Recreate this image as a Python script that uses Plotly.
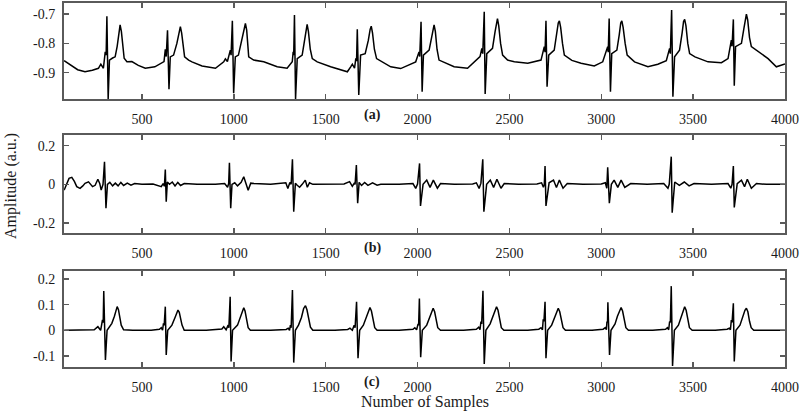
import plotly.graph_objects as go

# ---------------- data ----------------
# (a) raw ECG: sample index / amplitude
sig_a = [
    (76,-0.859),(110,-0.872),(150,-0.890),(190,-0.897),(230,-0.892),(263,-0.885),(276,-0.871),(290,-0.885),
    (300,-0.829),(305,-0.84),(309,-0.707),(316,-0.99),(323,-0.857),(340,-0.850),(354,-0.846),(365,-0.81),
    (374,-0.76),(381,-0.737),(388,-0.76),(396,-0.82),(403,-0.851),(418,-0.863),(445,-0.862),(480,-0.875),
    (518,-0.885),(570,-0.880),(609,-0.868),(620,-0.862),(627,-0.820),(632,-0.845),(639,-0.755),(647,-0.957),
    (654,-0.846),(672,-0.840),(690,-0.80),(702,-0.755),(709,-0.743),(716,-0.765),(725,-0.82),(732,-0.846),
    (754,-0.857),(772,-0.863),(827,-0.877),(900,-0.885),(945,-0.863),(954,-0.853),(965,-0.862),(981,-0.823),
    (985,-0.84),(992,-0.723),(999,-0.970),(1008,-0.846),(1025,-0.84),(1042,-0.79),(1055,-0.745),(1063,-0.732),
    (1070,-0.755),(1077,-0.82),(1081,-0.846),(1108,-0.857),(1163,-0.863),(1236,-0.880),(1290,-0.885),
    (1318,-0.863),(1323,-0.829),(1326,-0.84),(1330,-0.703),(1336,-0.99),(1345,-0.852),(1372,-0.840),
    (1385,-0.79),(1393,-0.75),(1399,-0.735),(1406,-0.76),(1416,-0.82),(1427,-0.852),(1454,-0.863),
    (1527,-0.880),(1581,-0.891),(1618,-0.897),(1636,-0.880),(1645,-0.871),(1657,-0.885),(1664,-0.851),
    (1668,-0.86),(1672,-0.752),(1680,-0.976),(1690,-0.840),(1715,-0.835),(1732,-0.79),(1742,-0.752),
    (1748,-0.741),(1755,-0.765),(1765,-0.82),(1777,-0.852),(1808,-0.863),(1854,-0.880),(1908,-0.886),
    (1963,-0.870),(1990,-0.863),(2008,-0.829),(2012,-0.845),(2019,-0.726),(2025,-0.965),(2032,-0.840),
    (2063,-0.823),(2078,-0.775),(2085,-0.745),(2090,-0.737),(2097,-0.76),(2106,-0.82),(2117,-0.857),
    (2140,-0.863),(2199,-0.880),(2272,-0.885),(2327,-0.854),(2340,-0.845),(2350,-0.817),(2355,-0.835),
    (2363,-0.692),(2368,-0.973),(2377,-0.835),(2408,-0.817),(2422,-0.76),(2430,-0.722),(2435,-0.715),
    (2442,-0.74),(2452,-0.80),(2463,-0.840),(2490,-0.857),(2527,-0.863),(2600,-0.868),(2672,-0.857),
    (2690,-0.811),(2694,-0.83),(2699,-0.723),(2705,-0.948),(2714,-0.840),(2744,-0.823),(2758,-0.765),
    (2766,-0.73),(2772,-0.723),(2779,-0.745),(2789,-0.80),(2799,-0.840),(2840,-0.858),(2890,-0.868),
    (2962,-0.877),(3008,-0.863),(3035,-0.811),(3038,-0.83),(3043,-0.715),(3050,-0.965),(3057,-0.835),
    (3085,-0.823),(3098,-0.77),(3106,-0.73),(3112,-0.723),(3119,-0.745),(3130,-0.80),(3141,-0.840),
    (3181,-0.863),(3254,-0.880),(3308,-0.871),(3354,-0.859),(3372,-0.817),(3376,-0.835),(3383,-0.686),
    (3390,-0.982),(3399,-0.846),(3426,-0.823),(3440,-0.765),(3448,-0.725),(3454,-0.718),(3461,-0.74),
    (3471,-0.80),(3481,-0.835),(3510,-0.846),(3581,-0.863),(3654,-0.866),(3690,-0.852),(3708,-0.789),
    (3712,-0.81),(3719,-0.718),(3724,-0.945),(3731,-0.811),(3763,-0.800),(3776,-0.75),(3784,-0.712),
    (3790,-0.700),(3797,-0.72),(3807,-0.78),(3817,-0.811),(3844,-0.823),(3908,-0.852),(3953,-0.880),
    (4000,-0.870),
]

# (b) filtered component
sig_b = [
    (76,-0.03),(90,0.0),(103,0.031),(118,0.036),(132,0.015),(145,-0.012),(163,-0.021),(178,-0.008),
    (190,0.005),(209,0.013),(231,-0.012),(245,-0.005),(260,0.026),(270,0.005),(278,-0.03),(288,0.0),
    (296,0.117),(304,-0.124),(312,0.0),(325,0.01),(340,-0.008),(355,0.006),(370,-0.008),(385,0.01),
    (400,-0.006),(420,0.006),(440,-0.004),(460,0.004),(500,0.0),(560,0.002),(605,-0.012),(615,0.004),
    (622,-0.01),(627,0.077),(632,-0.09),(638,0.012),(650,0.0),(665,0.012),(680,-0.008),(695,0.01),
    (710,-0.006),(730,0.004),(800,0.0),(900,0.0),(950,0.004),(966,-0.015),(972,0.005),(976,0.112),
    (983,-0.124),(990,0.0),(1005,0.008),(1020,-0.008),(1040,0.01),(1054,0.039),(1066,0.0),(1078,-0.03),
    (1092,0.006),(1110,0.004),(1200,0.0),(1270,0.004),(1283,0.008),(1294,-0.021),(1305,0.01),(1312,0.0),
    (1319,0.129),(1326,-0.141),(1335,0.005),(1345,-0.005),(1358,-0.015),(1372,0.0),(1389,0.022),
    (1400,-0.015),(1412,0.008),(1430,0.0),(1500,0.0),(1600,0.002),(1630,0.014),(1645,-0.01),(1655,0.005),
    (1660,0.0),(1667,0.1),(1674,-0.098),(1682,0.01),(1695,-0.006),(1712,0.01),(1730,-0.005),(1755,0.008),
    (1780,-0.004),(1800,0.0),(1900,0.0),(1975,0.004),(1990,-0.021),(2000,0.002),(2011,0.108),(2016,-0.112),
    (2030,0.0),(2050,0.022),(2068,-0.016),(2086,0.022),(2108,-0.02),(2125,0.004),(2200,0.0),(2300,0.002),
    (2320,0.008),(2335,-0.021),(2345,0.006),(2355,0.129),(2361,-0.141),(2376,0.0),(2396,0.022),
    (2414,-0.016),(2432,0.026),(2454,-0.02),(2472,0.004),(2550,0.0),(2650,0.002),(2675,0.008),
    (2685,-0.015),(2690,0.0),(2694,0.095),(2699,-0.112),(2716,0.008),(2740,0.022),(2756,-0.016),
    (2772,0.022),(2792,-0.02),(2815,0.004),(2900,0.0),(3000,0.002),(3022,0.008),(3030,-0.02),
    (3035,0.088),(3044,-0.098),(3055,0.0),(3070,0.022),(3090,-0.016),(3108,0.022),(3128,-0.016),
    (3160,0.004),(3250,0.0),(3340,0.004),(3363,-0.02),(3370,0.0),(3381,0.143),(3386,-0.147),(3400,0.012),
    (3425,-0.005),(3452,0.012),(3478,-0.008),(3505,0.004),(3600,0.0),(3690,0.004),(3705,-0.02),(3712,0.0),
    (3719,0.095),(3724,-0.119),(3740,0.004),(3763,0.022),(3780,-0.012),(3795,0.026),(3817,-0.02),
    (3845,0.004),(3900,0.0),(4000,0.0),
]

# (c) reconstructed ECG
sig_c = [
    (76,0.0),(150,0.0),(240,0.002),(260,0.014),(275,0.0),(285,0.04),(289,0.03),(292,0.153),(301,-0.116),
    (310,0.0),(336,0.027),(350,0.055),(358,0.08),(365,0.092),(372,0.08),(380,0.045),(387,0.02),(400,0.002),
    (450,0.0),(550,0.0),(595,0.004),(605,0.01),(612,0.0),(617,0.027),(621,0.02),(627,0.092),(632,-0.096),
    (640,0.0),(663,0.02),(680,0.05),(690,0.072),(696,0.079),(703,0.07),(711,0.04),(718,0.02),(730,0.0),
    (850,0.0),(935,0.005),(945,0.014),(958,0.002),(969,0.02),(973,0.01),(980,0.131),(985,-0.122),(993,0.0),
    (1020,0.02),(1035,0.05),(1046,0.08),(1054,0.088),(1061,0.075),(1070,0.035),(1078,0.01),(1090,0.0),
    (1200,0.0),(1285,0.003),(1296,0.008),(1303,0.0),(1308,0.02),(1312,0.01),(1319,0.157),(1326,-0.126),
    (1335,0.0),(1352,0.02),(1368,0.05),(1380,0.085),(1390,0.096),(1398,0.08),(1408,0.04),(1417,0.012),
    (1430,0.0),(1550,0.0),(1620,0.003),(1632,0.008),(1645,0.0),(1655,0.02),(1660,0.01),(1668,0.111),
    (1676,-0.109),(1685,0.0),(1705,0.02),(1720,0.05),(1733,0.08),(1741,0.089),(1749,0.075),(1758,0.035),
    (1767,0.01),(1780,0.0),(1900,0.0),(1975,0.004),(1985,0.01),(1995,0.002),(2003,0.025),(2006,0.02),
    (2010,0.124),(2017,-0.105),(2026,0.0),(2050,0.02),(2065,0.05),(2077,0.078),(2085,0.086),(2093,0.072),
    (2102,0.035),(2110,0.01),(2125,0.0),(2250,0.0),(2320,0.004),(2333,0.012),(2340,0.002),(2345,0.034),
    (2349,0.025),(2356,0.154),(2363,-0.131),(2372,0.0),(2395,0.025),(2410,0.055),(2422,0.083),(2430,0.092),
    (2438,0.078),(2447,0.04),(2456,0.01),(2470,0.0),(2600,0.0),(2660,0.004),(2672,0.01),(2680,0.002),
    (2684,0.043),(2688,0.035),(2694,0.111),(2699,-0.109),(2708,0.0),(2730,0.02),(2745,0.05),(2758,0.078),
    (2766,0.086),(2774,0.072),(2783,0.035),(2792,0.01),(2805,0.0),(2950,0.0),(3010,0.004),(3022,0.01),
    (3028,0.002),(3031,0.034),(3034,0.03),(3036,0.109),(3045,-0.096),(3053,0.0),(3075,0.025),(3088,0.055),
    (3100,0.08),(3108,0.089),(3116,0.075),(3125,0.035),(3134,0.01),(3148,0.0),(3280,0.0),(3350,0.004),
    (3360,0.01),(3367,0.002),(3372,0.034),(3376,0.03),(3381,0.172),(3388,-0.139),(3398,0.0),(3420,0.02),
    (3433,0.05),(3446,0.083),(3454,0.092),(3462,0.078),(3471,0.04),(3480,0.01),(3495,0.0),(3620,0.0),
    (3685,0.004),(3697,0.008),(3703,0.002),(3708,0.04),(3712,0.03),(3719,0.105),(3724,-0.122),(3733,0.0),
    (3755,0.02),(3768,0.05),(3782,0.078),(3790,0.086),(3798,0.072),(3807,0.035),(3816,0.01),(3830,0.0),
    (4000,0.0),
]

x_ticks = [500, 1000, 1500, 2000, 2500, 3000, 3500, 4000]
y_ticks_a = [-0.9, -0.8, -0.7]
y_ticks_b = [-0.2, 0, 0.2]
y_ticks_c = [-0.1, 0, 0.1, 0.2]
panel_labels = ["(a)", "(b)", "(c)"]
x_title = "Number of Samples"
y_title = "Amplitude (a.u.)"

# ---------------- figure ----------------
W, H = 800, 413          # target picture size
FIG_W = 815              # page is captured slightly wider than 800 and squeezed
FONT = "Liberation Serif"
AX = "#5a5a5a"

def py(top_px, bot_px):
    return [1 - bot_px / H, 1 - top_px / H]

panels = [
    dict(sig=sig_a, yt=y_ticks_a, yr=[-0.99, -0.662], dom=py(3, 99)),
    dict(sig=sig_b, yt=y_ticks_b, yr=[-0.25, 0.255], dom=py(135, 232.7)),
    dict(sig=sig_c, yt=y_ticks_c, yr=[-0.142, 0.231], dom=py(271, 366.7)),
]

fig = go.Figure()
layout = dict(
    width=FIG_W, height=H, autosize=False, margin=dict(l=0, r=0, t=0, b=0),
    paper_bgcolor="white", plot_bgcolor="white", showlegend=False,
    font=dict(family=FONT, size=14, color="#1a1a1a"),
)

def fmt(v):
    return "%g" % v

for i, p in enumerate(panels):
    n = i + 1
    xa = "x" if n == 1 else "x%d" % n
    ya = "y" if n == 1 else "y%d" % n
    fig.add_trace(go.Scatter(
        x=[s for s, _ in p["sig"]], y=[v for _, v in p["sig"]],
        mode="lines", line=dict(color="black", width=1.5),
        xaxis=xa, yaxis=ya, hoverinfo="skip", cliponaxis=True,
    ))
    axis_common = dict(
        showline=True, linecolor=AX, linewidth=2, mirror="ticks",
        ticks="inside", ticklen=5, tickwidth=1.5, tickcolor=AX,
        showgrid=False, zeroline=False,
        tickfont=dict(family=FONT, size=14, color="#1a1a1a"),
    )
    layout["xaxis" if n == 1 else "xaxis%d" % n] = dict(
        axis_common, domain=[64 / W, 784 / W], range=[76, 4000],
        tickvals=x_ticks, ticktext=[str(t) for t in x_ticks],
        anchor=ya, ticklabelstandoff=6,
    )
    layout["yaxis" if n == 1 else "yaxis%d" % n] = dict(
        axis_common, domain=p["dom"], range=p["yr"],
        tickvals=p["yt"], ticktext=[fmt(t) for t in p["yt"]],
        anchor=xa, ticklabelstandoff=4,
    )

fig.update_layout(**layout)

label_y = [115, 248, 381.7]
for lab, yy in zip(panel_labels, label_y):
    fig.add_annotation(text="<b>%s</b>" % lab, x=371.7 / W, y=1 - yy / H,
                       xref="paper", yref="paper", showarrow=False,
                       font=dict(family=FONT, size=14, color="#1a1a1a"),
                       xanchor="center", yanchor="middle")

fig.add_annotation(text=x_title, x=424 / W, y=1 - 402 / H, xref="paper", yref="paper",
                   showarrow=False, font=dict(family=FONT, size=16, color="#1a1a1a"),
                   xanchor="center", yanchor="middle")
fig.add_annotation(text=y_title, x=11 / W, y=1 - 186 / H, xref="paper", yref="paper",
                   showarrow=False, textangle=-90,
                   font=dict(family=FONT, size=16, color="#1a1a1a"),
                   xanchor="center", yanchor="middle")

post = (
    "document.documentElement.style.overflow='hidden';"
    "document.body.style.margin='0';document.body.style.overflow='hidden';"
)

fig.write_html(
    "out.html",
    config={"displayModeBar": False, "responsive": False, "staticPlot": True},
    post_script=post,
)
